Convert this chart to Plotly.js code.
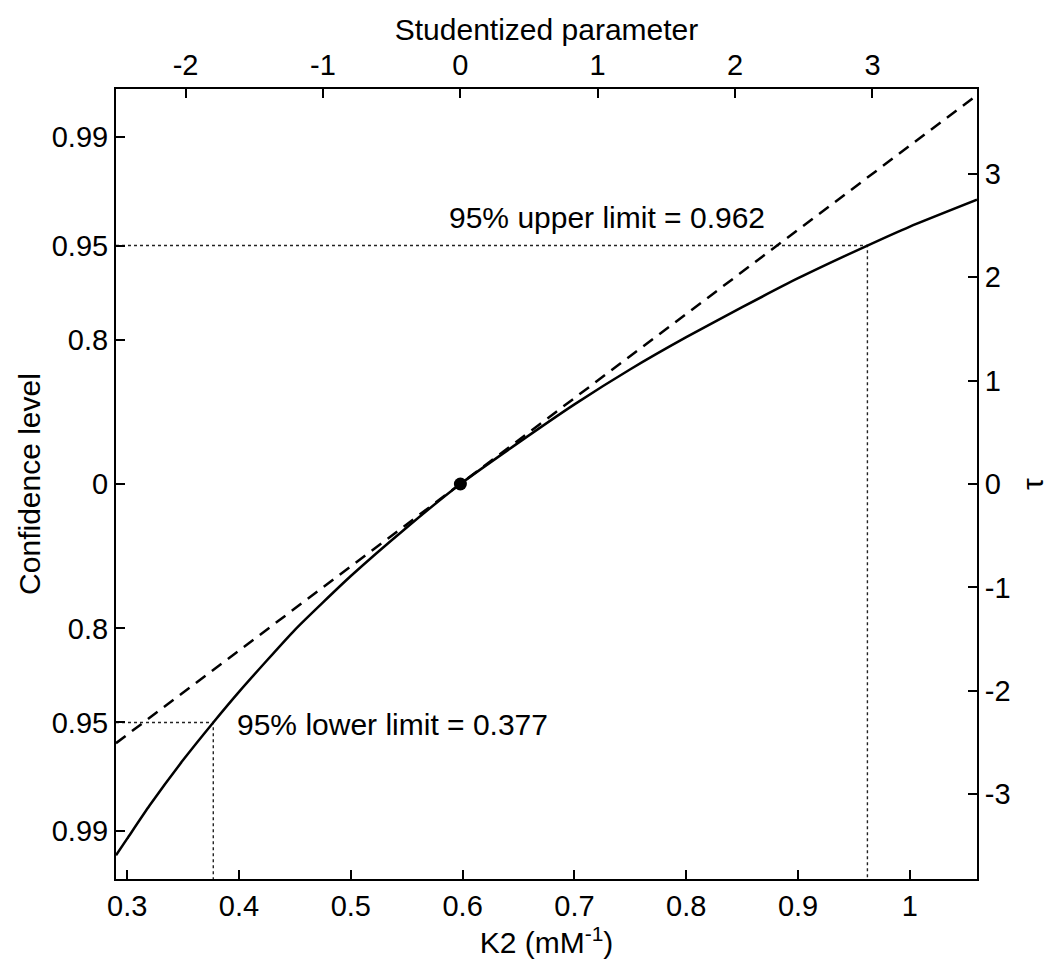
<!DOCTYPE html>
<html>
<head>
<meta charset="utf-8">
<script src="https://cdn.plot.ly/plotly-3.0.1.min.js"></script>
<style>html,body{margin:0;padding:0;background:#fff;}#chart{width:1049px;height:961px;}</style>
</head>
<body>
<div id="chart"></div>
<script>
// ---- data ----
const k2Values = [0.29, 0.30, 0.32, 0.35, 0.377, 0.40, 0.45, 0.50, 0.55, 0.598, 0.65, 0.70, 0.75, 0.80, 0.85, 0.90, 0.962, 1.00, 1.06];
const tauValues = [-3.59, -3.43, -3.11, -2.67, -2.306, -2.01, -1.41, -0.89, -0.42, 0, 0.40, 0.77, 1.11, 1.42, 1.71, 1.99, 2.306, 2.49, 2.75];
const k2Estimate = 0.598;
const lowerLimit = 0.377;
const upperLimit = 0.962;
const tCrit95 = 2.306;
const studentizedRange = [-2.506, 3.761];   // linear approximation (dashed): tau = studentized parameter
const k2Range = [0.29, 1.06];
const tauRange = [-3.82, 3.82];
const k2Ticks = [0.3, 0.4, 0.5, 0.6, 0.7, 0.8, 0.9, 1.0];
const k2TickText = ['0.3', '0.4', '0.5', '0.6', '0.7', '0.8', '0.9', '1'];
const studTicks = [-2, -1, 0, 1, 2, 3];
const studTickText = ['-2', '-1', '0', '1', '2', '3'];
const tauTicks = [-3, -2, -1, 0, 1, 2, 3];
const tauTickText = ['-3', '-2', '-1', '0', '1', '2', '3'];
const confLevels = ['0.99', '0.95', '0.8'];
const confTau = [3.355, 2.306, 1.397];

const FONT = 'Liberation Sans, Arial, sans-serif';
const FS = 30;
const TFS = 29;

const confTickVals = [-confTau[0], -confTau[1], -confTau[2], 0, confTau[2], confTau[1], confTau[0]];
const confTickText = [confLevels[0], confLevels[1], confLevels[2], '0', confLevels[2], confLevels[1], confLevels[0]];

const dotLine = {color: '#222', width: 1.4, dash: 'dot'};

const traces = [
  {x: [k2Range[0], upperLimit, upperLimit], y: [tCrit95, tCrit95, tauRange[0]], mode: 'lines', line: dotLine, xaxis: 'x', yaxis: 'y', hoverinfo: 'skip'},
  {x: [k2Range[0], lowerLimit, lowerLimit], y: [-tCrit95, -tCrit95, tauRange[0]], mode: 'lines', line: dotLine, xaxis: 'x', yaxis: 'y', hoverinfo: 'skip'},
  {x: studentizedRange, y: studentizedRange, mode: 'lines', line: {color: '#000', width: 2.5, dash: '12px,8px'}, xaxis: 'x2', yaxis: 'y2'},
  {x: k2Values, y: tauValues, mode: 'lines', line: {color: '#000', width: 2.5, shape: 'spline', smoothing: 0.5}, xaxis: 'x', yaxis: 'y'},
  {x: [k2Estimate], y: [0], mode: 'markers', marker: {color: '#000', size: 13}, xaxis: 'x', yaxis: 'y'}
];

const axisBase = {
  showline: true, linewidth: 2, linecolor: '#000', mirror: false,
  ticks: 'inside', ticklen: 9, tickwidth: 2, tickcolor: '#000',
  showgrid: false, zeroline: false,
  tickfont: {family: FONT, size: TFS, color: '#000'}
};

const layout = {
  width: 1049, height: 961,
  margin: {l: 116, r: 72, t: 89, b: 82},
  paper_bgcolor: '#fff', plot_bgcolor: '#fff',
  showlegend: false,
  font: {family: FONT, size: FS, color: '#000'},
  xaxis: Object.assign({}, axisBase, {
    range: k2Range, tickvals: k2Ticks, ticktext: k2TickText, anchor: 'y',
    title: {text: 'K2 (mM<sup>-1</sup>)', font: {family: FONT, size: FS}, standoff: 6}
  }),
  xaxis2: Object.assign({}, axisBase, {
    range: studentizedRange, tickvals: studTicks, ticktext: studTickText, overlaying: 'x', side: 'top', anchor: 'y',
    title: {text: 'Studentized parameter', font: {family: FONT, size: FS}, standoff: 0}
  }),
  yaxis: Object.assign({}, axisBase, {
    range: tauRange, tickvals: confTickVals, ticktext: confTickText, anchor: 'x',
    title: {text: 'Confidence level', font: {family: FONT, size: FS}, standoff: 2}
  }),
  yaxis2: Object.assign({}, axisBase, {
    range: tauRange, tickvals: tauTicks, ticktext: tauTickText, overlaying: 'y', side: 'right', anchor: 'x',
    title: {text: 'τ', font: {family: FONT, size: FS}, standoff: 14}
  }),
  annotations: [
    {x: 0.729, y: tCrit95, xref: 'x', yref: 'y', text: '95% upper limit = ' + upperLimit.toFixed(3),
     showarrow: false, yshift: 28, font: {family: FONT, size: FS, color: '#000'}},
    {x: lowerLimit, y: -tCrit95, xref: 'x', yref: 'y', text: '95% lower limit = ' + lowerLimit.toFixed(3),
     showarrow: false, xanchor: 'left', xshift: 22, yshift: -2, font: {family: FONT, size: FS, color: '#000'}}
  ]
};

Plotly.newPlot('chart', traces, layout, {staticPlot: true, displayModeBar: false});
</script>
</body>
</html>
